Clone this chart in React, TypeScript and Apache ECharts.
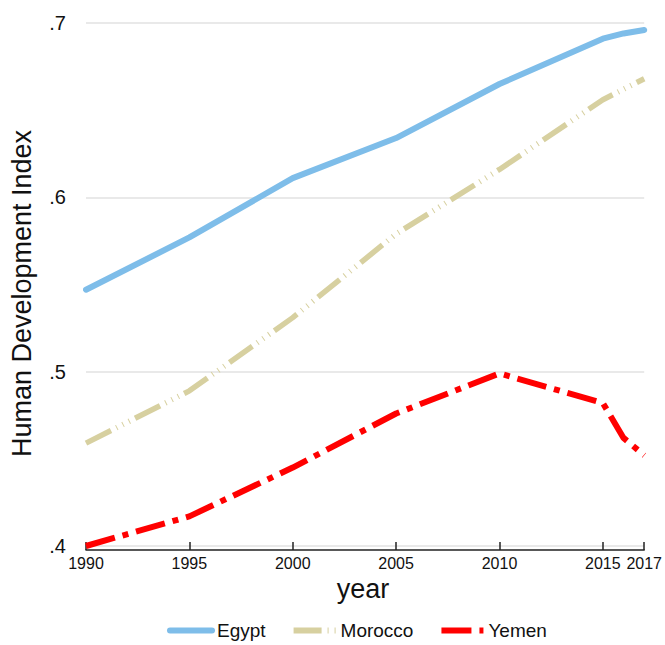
import React, { useEffect, useRef } from "react";
import * as echarts from "echarts";

const years = [1990, 1995, 2000, 2005, 2010, 2015, 2016, 2017];
const egypt = [0.547, 0.577, 0.611, 0.634, 0.665, 0.691, 0.694, 0.696];
const morocco = [0.459, 0.489, 0.531, 0.579, 0.616, 0.656, 0.662, 0.668];
const yemen = [0.4, 0.417, 0.445, 0.476, 0.499, 0.482, 0.462, 0.452];
const xTicks = [1990, 1995, 2000, 2005, 2010, 2015, 2017];

const pairs = (vals: number[]) => years.map((y, i) => [y, vals[i]]);

export default function App() {
  const ref = useRef<HTMLDivElement>(null);
  useEffect(() => {
    if (!ref.current) return;
    const chart = echarts.init(ref.current, null, { renderer: "svg" });
    const font = "Arial, 'Liberation Sans', sans-serif";
    chart.setOption({
      animation: false,
      backgroundColor: "#ffffff",
      grid: { left: 75, right: 15, top: 23, bottom: 99 },
      legend: {
        top: 619,
        left: 162,
        padding: [2, 5, 0, 5],
        itemWidth: 42,
        itemHeight: 10,
        itemGap: 25,
        itemStyle: { opacity: 0 },
        lineStyle: { width: 6 },
        textStyle: { fontSize: 19, color: "#111", fontFamily: font },
        data: ["Egypt", "Morocco", "Yemen"],
      },
      xAxis: {
        type: "value",
        min: 1990,
        max: 2017,
        offset: 4,
        name: "year",
        nameLocation: "middle",
        nameGap: 24,
        nameTextStyle: { fontSize: 27, color: "#111", fontFamily: font, padding: [0, 4, 0, 0] },
        axisLine: { show: true, lineStyle: { color: "#222", width: 1.5 } },
        axisTick: {
          show: true,
          inside: true,
          length: 8,
          customValues: xTicks,
          lineStyle: { color: "#222", width: 1.5 },
        },
        axisLabel: {
          customValues: xTicks,
          fontSize: 16,
          margin: 5,
          color: "#111",
          fontFamily: "'Liberation Sans Narrow', 'Arial Narrow', Arial, sans-serif",
          formatter: (v: number) => String(v),
        },
        splitLine: { show: false },
      },
      yAxis: {
        type: "value",
        min: 0.4,
        max: 0.7,
        interval: 0.1,
        name: "Human Development Index",
        nameLocation: "middle",
        nameGap: 51,
        nameTextStyle: { fontSize: 27, color: "#111", fontFamily: font, padding: [0, 18, 0, 0] },
        axisLine: { show: false },
        axisTick: { show: false },
        axisLabel: {
          fontSize: 20,
          margin: 20,
          color: "#111",
          fontFamily: font,
          formatter: (v: number) => v.toFixed(1).replace(/^0/, ""),
        },
        splitLine: { show: true, lineStyle: { color: "#e2e2e2", width: 1.5 } },
      },
      series: [
        {
          name: "Egypt",
          type: "line",
          data: pairs(egypt),
          symbol: "none",
          color: "#7ebde9",
          lineStyle: { color: "#7ebde9", width: 6, cap: "round", join: "round" },
        },
        {
          name: "Morocco",
          type: "line",
          data: pairs(morocco),
          symbol: "none",
          color: "#d7d0a0",
          lineStyle: {
            color: "#d7d0a0",
            width: 5.5,
            type: [28, 6, 1, 6, 1, 6, 1, 6],
            cap: "butt",
          },
        },
        {
          name: "Yemen",
          type: "line",
          data: pairs(yemen),
          symbol: "none",
          color: "#ff0000",
          lineStyle: {
            color: "#ff0000",
            width: 6,
            type: [30, 8, 6, 8],
            cap: "butt",
          },
        },
      ],
    });
    return () => chart.dispose();
  }, []);
  return (
    <div
      ref={ref}
      style={{ position: "fixed", left: 0, top: 0, width: 665, height: 645 }}
    />
  );
}
